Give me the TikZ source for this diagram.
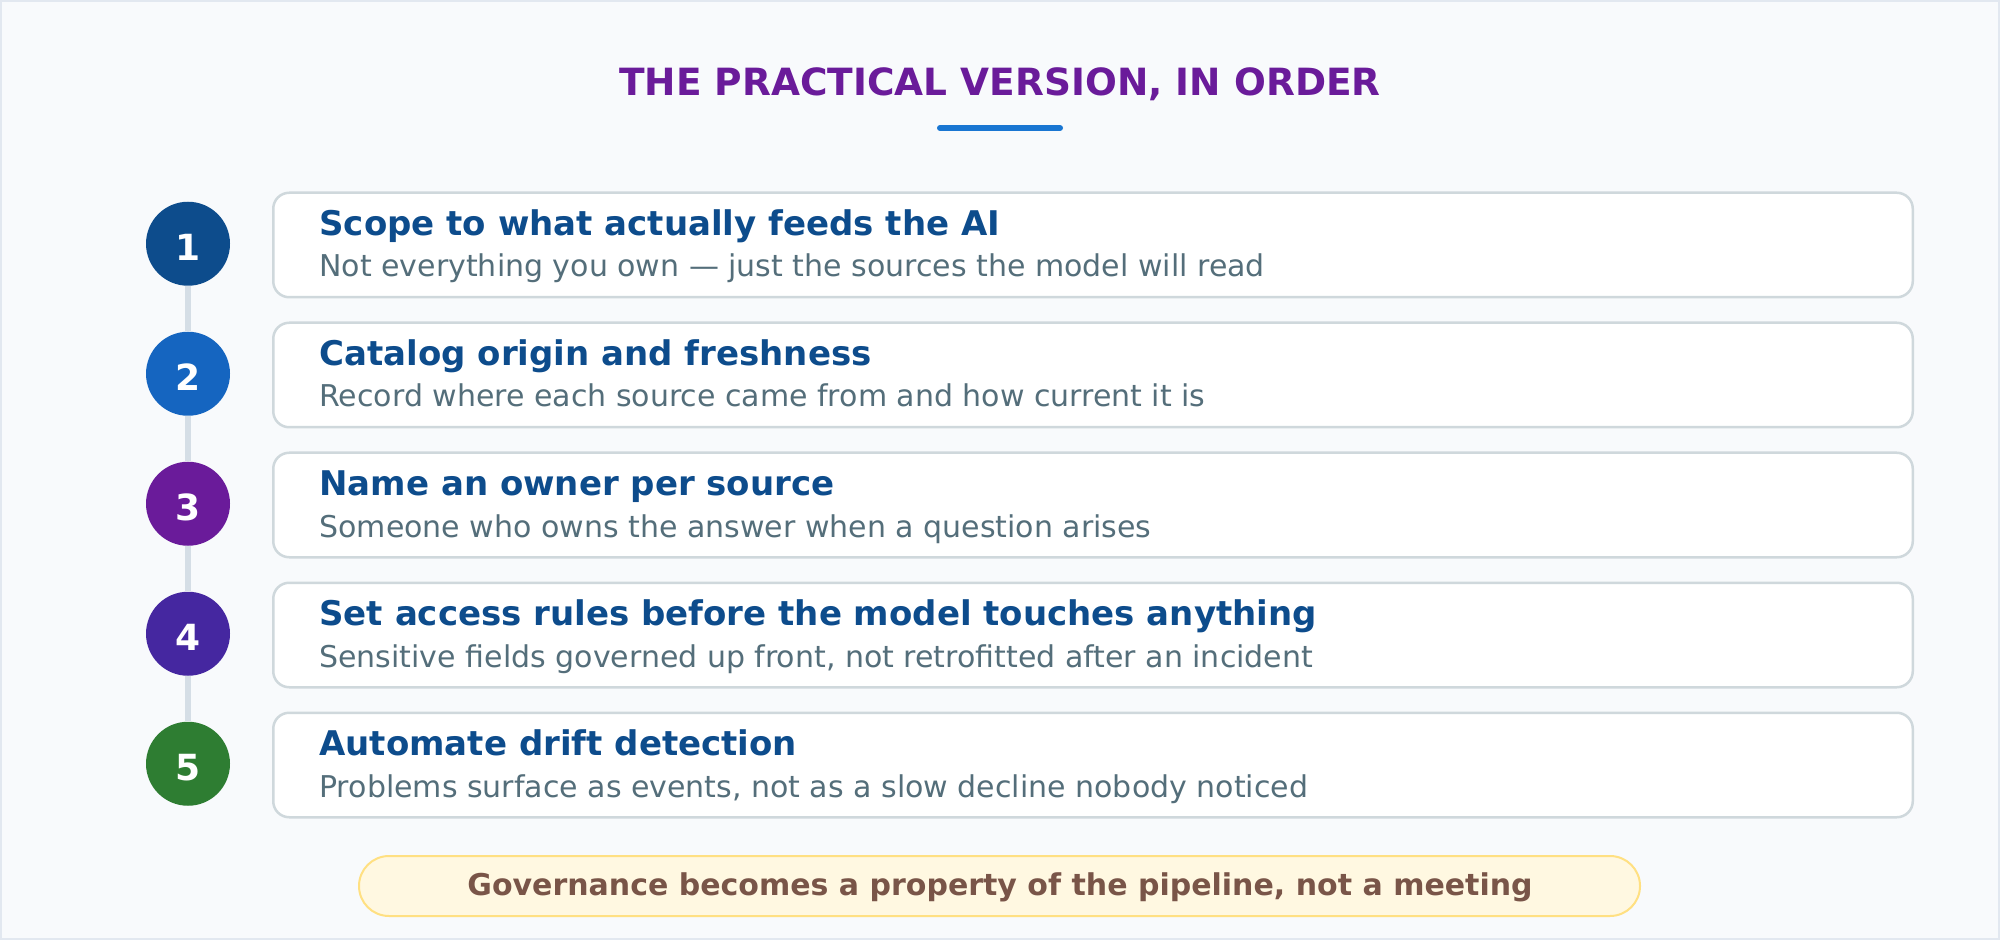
\documentclass[tikz,border=0pt]{standalone}
\usepackage{fontspec}
\setmainfont{DejaVu Sans}
\usepackage{tikz}
\usetikzlibrary{positioning}
\usepackage{xcolor}
\definecolor{pagebg}{HTML}{F8FAFC}
\definecolor{pageframe}{HTML}{E2E8F0}
\definecolor{headpurple}{HTML}{6A1B9A}
\definecolor{rulerblue}{HTML}{1976D2}
\definecolor{cardedge}{HTML}{CFD8DC}
\definecolor{railgray}{HTML}{D5DEE6}
\definecolor{titleblue}{HTML}{0D4C8C}
\definecolor{subgray}{HTML}{546E7A}
\definecolor{stepA}{HTML}{0D4C8C}
\definecolor{stepB}{HTML}{1565C0}
\definecolor{stepC}{HTML}{6A1B9A}
\definecolor{stepD}{HTML}{4527A0}
\definecolor{stepE}{HTML}{2E7D32}
\definecolor{notefill}{HTML}{FFF8E1}
\definecolor{noteedge}{HTML}{FFE082}
\definecolor{notetext}{HTML}{795548}

\begin{document}
\begin{tikzpicture}[x=0.5pt,y=-0.5pt,
  stepcard/.style={rectangle,draw=cardedge,line width=1.25pt,fill=white,rounded corners=8pt,minimum width=819.75pt,minimum height=52.25pt,anchor=north west,inner sep=0pt},
  stepnum/.style={circle,minimum size=42pt,inner sep=0pt,text=white,text height=17pt,text depth=0pt,font=\bfseries\fontsize{18}{20}\selectfont},
  stephead/.style={anchor=base west,inner sep=0pt,text=titleblue,font=\bfseries\fontsize{17}{20}\selectfont},
  stepline/.style={anchor=base west,inner sep=0pt,text=subgray,font=\fontsize{15}{18}\selectfont},
  rail/.style={draw=railgray,line width=3pt}]
\useasboundingbox (0,0) rectangle (2000,940);
\fill[pagebg] (0,0) rectangle (2000,940);
\draw[pageframe,line width=1pt] (1,1) rectangle (1999,939);

\node[anchor=base,inner sep=0pt,text=headpurple,font=\bfseries\fontsize{18.75}{22}\selectfont] (heading) at (1000,96) {THE PRACTICAL VERSION, IN ORDER};
\coordinate (ruleL) at (940,128);
\coordinate (ruleR) at (1060,128);
\draw[rulerblue,line width=3pt,line cap=round] (ruleL) -- (ruleR);

\node[stepnum,fill=stepA] (n1) at (188,243.75) {1};
\node[stepnum,fill=stepB] (n2) at (188,373.75) {2};
\node[stepnum,fill=stepC] (n3) at (188,503.75) {3};
\node[stepnum,fill=stepD] (n4) at (188,633.75) {4};
\node[stepnum,fill=stepE] (n5) at (188,763.75) {5};
\draw[rail] (n1) -- (n2);
\draw[rail] (n2) -- (n3);
\draw[rail] (n3) -- (n4);
\draw[rail] (n4) -- (n5);

\node[stepcard] (card1) at (272,191.5) {};
\node[stephead] (head1) at (319,235.5) {Scope to what actually feeds the AI};
\node[stepline] (line1) at (319,277) {Not everything you own — just the sources the model will read};

\node[stepcard] (card2) at (272,321.5) {};
\node[stephead] (head2) at (319,365.5) {Catalog origin and freshness};
\node[stepline] (line2) at (319,407) {Record where each source came from and how current it is};

\node[stepcard] (card3) at (272,451.5) {};
\node[stephead] (head3) at (319,495.5) {Name an owner per source};
\node[stepline] (line3) at (319,537) {Someone who owns the answer when a question arises};

\node[stepcard] (card4) at (272,581.5) {};
\node[stephead] (head4) at (319,625.5) {Set access rules before the model touches anything};
\node[stepline] (line4) at (319,667) {Sensitive fields governed up front, not retrofitted after an incident};

\node[stepcard] (card5) at (272,711.5) {};
\node[stephead] (head5) at (319,755.5) {Automate drift detection};
\node[stepline] (line5) at (319,797) {Problems surface as events, not as a slow decline nobody noticed};

\node[rectangle,rounded corners=15pt,draw=noteedge,fill=notefill,line width=1pt,minimum width=640.5pt,minimum height=30pt,inner sep=0pt] (banner) at (999.5,886) {};
\node[anchor=base,inner sep=0pt,text=notetext,font=\bfseries\fontsize{15}{18}\selectfont] (bannertext) at (1000,895) {Governance becomes a property of the pipeline, not a meeting};
\end{tikzpicture}
\end{document}
